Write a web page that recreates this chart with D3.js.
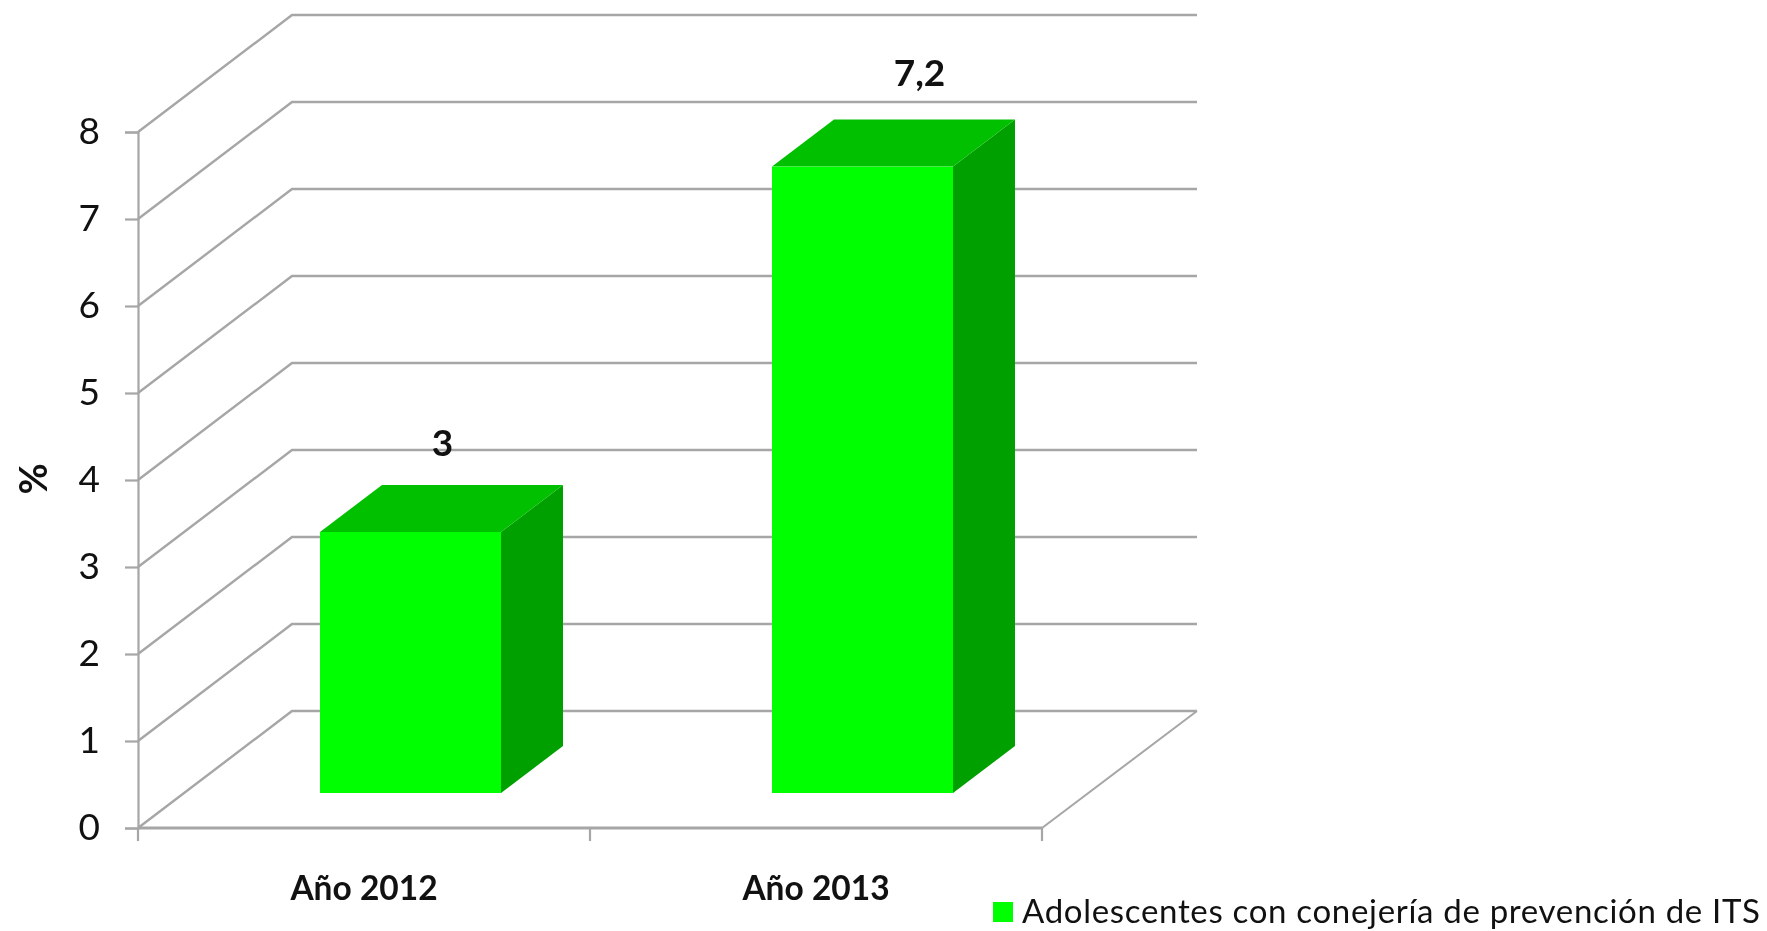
<!DOCTYPE html>
<html lang="es"><head><meta charset="utf-8">
<script src="https://cdn.jsdelivr.net/npm/d3@7/dist/d3.min.js"></script>
<style>html,body{margin:0;padding:0;background:#fff;overflow:hidden}svg{display:block;filter:blur(0.55px)}text{font-family:Lato,"Open Sans",sans-serif;fill:#111}</style>
</head><body><svg id="c" width="1767" height="931"></svg>
<script>
const categories = ["Año 2012", "Año 2013"];
const values = [3, 7.2];
const valueLabels = ["3", "7,2"];
const yTicks = [0, 1, 2, 3, 4, 5, 6, 7, 8];
const seriesName = "Adolescentes con conejería de prevención de ITS";
const axisTitle = "%";

const svg = d3.select("#c");
const grey = "#a6a6a6";
const frontGreen = "#00ff00", topGreen = "#00c000", sideGreen = "#00a000";

const y = d3.scaleLinear().domain([0, 8]).range([828, 132]);
const x = d3.scaleBand().domain(categories).range([138, 1042]);
const wallDx = 154, wallDy = -117, wallRight = 1197;
const barShiftDx = 46, barShiftDy = -35, barDepthDx = 62, barDepthDy = -47;
const barWidth = 181, barInset = 136;
const labelNudgeX = {"Año 2012": -30, "Año 2013": -5};
const labelNudgeY = {"Año 2012": -29, "Año 2013": -34};

// Gridlines: side wall + back wall
const grid = svg.append("g").attr("fill", "none").attr("stroke", grey).attr("stroke-width", 2.4);
grid.selectAll("path").data(yTicks).join("path")
  .attr("d", d => d3.line()([[x.range()[0], y(d)], [x.range()[0] + wallDx, y(d) + wallDy], [wallRight, y(d) + wallDy]]));
grid.append("path").attr("stroke-width", 2)
  .attr("d", d3.line()([[x.range()[1], y(0)], [wallRight, y(0) + wallDy]]));

// Value axis
const yAxis = svg.append("g").attr("transform", `translate(${x.range()[0]},0)`)
  .call(d3.axisLeft(y).tickValues(yTicks).tickFormat(d3.format("d")).tickSize(13).tickPadding(25));
yAxis.selectAll("path,line").attr("stroke", grey).attr("stroke-width", 2.2);
yAxis.selectAll("text").attr("font-size", 37).attr("font-family", "Lato").attr("font-weight", 400).attr("fill", "#111");

// Category axis
const edges = [...categories.map(c => x(c)), x.range()[1]];
const xAxisG = svg.append("g").attr("stroke", grey);
xAxisG.append("line").attr("x1", x.range()[0]).attr("x2", x.range()[1]).attr("y1", y(0)).attr("y2", y(0)).attr("stroke-width", 3);
xAxisG.selectAll("line.t").data(edges).join("line").attr("class", "t")
  .attr("x1", d => d).attr("x2", d => d).attr("y1", y(0)).attr("y2", y(0) + 13).attr("stroke-width", 2.2);
svg.append("g").selectAll("text").data(categories).join("text")
  .attr("x", d => x(d) + x.bandwidth() / 2).attr("y", 900)
  .attr("text-anchor", "middle").attr("font-size", 33.5).attr("font-weight", 700).text(d => d);

// 3D bars
const bars = svg.append("g").selectAll("g").data(categories.map((c, i) => ({c, v: values[i], l: valueLabels[i]}))).join("g");
const fx = d => x(d.c) + barShiftDx + barInset;
const by = y(0) + barShiftDy;
const ty = d => y(d.v) + barShiftDy;
bars.append("path").attr("fill", sideGreen).attr("d", d => d3.line()([
  [fx(d) + barWidth, by], [fx(d) + barWidth + barDepthDx, by + barDepthDy],
  [fx(d) + barWidth + barDepthDx, ty(d) + barDepthDy], [fx(d) + barWidth, ty(d)]]) + "Z");
bars.append("path").attr("fill", topGreen).attr("d", d => d3.line()([
  [fx(d), ty(d)], [fx(d) + barDepthDx, ty(d) + barDepthDy],
  [fx(d) + barWidth + barDepthDx, ty(d) + barDepthDy], [fx(d) + barWidth, ty(d)]]) + "Z");
bars.append("rect").attr("fill", frontGreen).attr("x", fx).attr("y", ty)
  .attr("width", barWidth).attr("height", d => by - ty(d));
bars.append("text").attr("x", d => fx(d) + barWidth / 2 + barDepthDx + labelNudgeX[d.c])
  .attr("y", d => ty(d) + barDepthDy + labelNudgeY[d.c])
  .attr("text-anchor", "middle").attr("font-size", 37).attr("font-weight", 700).text(d => d.l);

// Axis title
svg.append("text").attr("transform", "translate(47,479) rotate(-90)")
  .attr("text-anchor", "middle").attr("font-size", 38).attr("font-weight", 700).text(axisTitle);

// Legend
svg.append("rect").attr("x", 993).attr("y", 902).attr("width", 20).attr("height", 20).attr("fill", frontGreen);
svg.append("text").attr("x", 1022).attr("y", 923).attr("font-size", 33).attr("fill", "#222")
  .attr("textLength", 738).attr("lengthAdjust", "spacing").text(seriesName);
</script></body></html>
